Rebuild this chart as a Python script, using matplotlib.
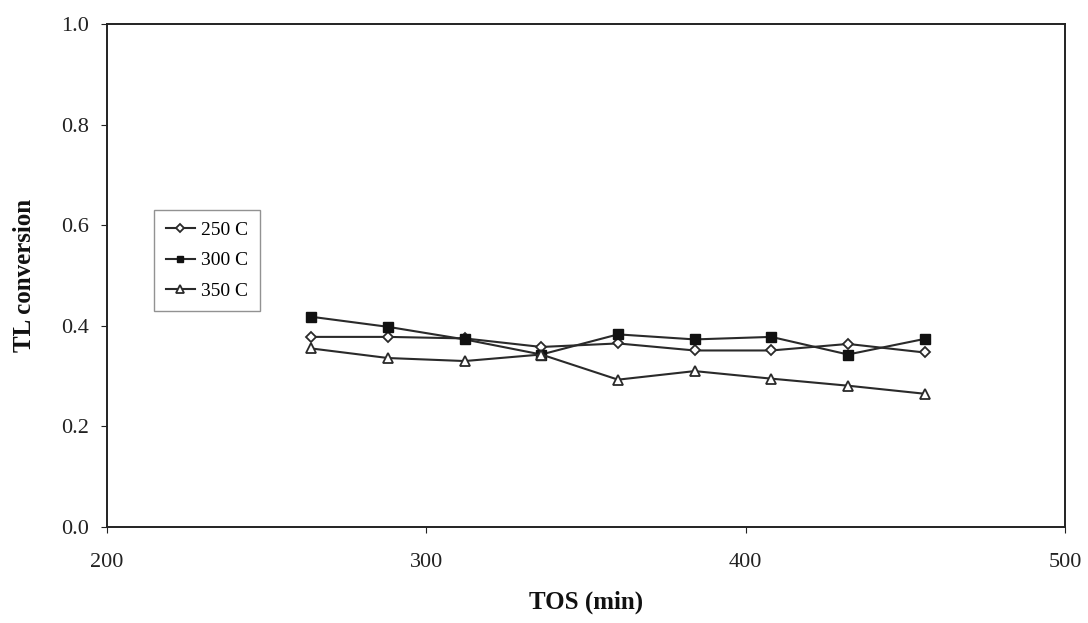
import matplotlib
matplotlib.use("Agg")
import matplotlib.pyplot as plt

# Time on stream (min)
tos = [264, 288, 312, 336, 360, 384, 408, 432, 456]

# TL conversion at each reactor temperature
conv_250 = [0.378, 0.378, 0.375, 0.358, 0.365, 0.351, 0.351, 0.364, 0.347]
conv_300 = [0.418, 0.398, 0.373, 0.343, 0.383, 0.373, 0.378, 0.343, 0.374]
conv_350 = [0.355, 0.336, 0.330, 0.343, 0.293, 0.310, 0.295, 0.281, 0.265]

labels = ["250 C", "300 C", "350 C"]
x_ticks = [200, 300, 400, 500]
y_ticks = [0.0, 0.2, 0.4, 0.6, 0.8, 1.0]

plt.rcParams["font.family"] = ["Liberation Serif", "DejaVu Serif"]

fig = plt.figure(figsize=(10.88, 6.23), dpi=100)
ax = fig.add_axes([0.0983, 0.154, 0.8807, 0.8075])

line_kw = dict(color="#2a2a2a", linewidth=1.5)
ax.plot(tos, conv_250, marker="D", markersize=5.5, markerfacecolor="white",
        markeredgecolor="#2a2a2a", markeredgewidth=1.3, label=labels[0], **line_kw)
ax.plot(tos, conv_300, marker="s", markersize=6.5, markerfacecolor="#111111",
        markeredgecolor="#111111", label=labels[1], **line_kw)
ax.plot(tos, conv_350, marker="^", markersize=7, markerfacecolor="white",
        markeredgecolor="#2a2a2a", markeredgewidth=1.3, label=labels[2], **line_kw)

ax.set_xlim(200, 500)
ax.set_ylim(0.0, 1.0)
ax.set_xticks(x_ticks)
ax.set_yticks(y_ticks)
ax.set_yticklabels([f"{v:.1f}" for v in y_ticks])
ax.tick_params(axis="x", direction="out", length=4, pad=15, labelsize=16,
               colors="#222222")
ax.tick_params(axis="y", direction="out", length=4, pad=9, labelsize=16,
               colors="#222222")
for sp in ax.spines.values():
    sp.set_linewidth(1.4)
    sp.set_color("#222222")

ax.set_xlabel("TOS (min)", fontsize=18, fontweight="bold", labelpad=13,
              color="#111111")
ax.set_ylabel("TL conversion", fontsize=18, fontweight="bold", labelpad=18,
              color="#111111")

leg = ax.legend(loc="upper left", bbox_to_anchor=(0.039, 0.65), fontsize=14,
                frameon=True, fancybox=False, handlelength=1.5,
                handletextpad=0.3, borderpad=0.6, labelspacing=0.65,
                markerscale=0.75)
leg.get_frame().set_edgecolor("#777777")
leg.get_frame().set_linewidth(1.0)

fig.savefig("out.png", dpi=100)
